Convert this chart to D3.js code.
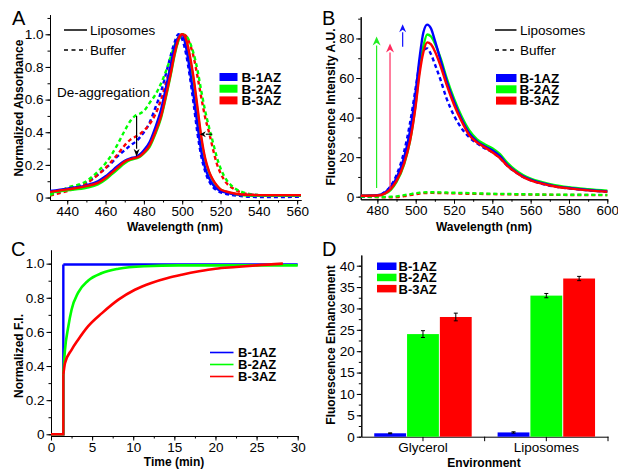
<!DOCTYPE html>
<html>
<head>
<meta charset="utf-8">
<script src="https://cdn.jsdelivr.net/npm/d3@7"></script>
<style>
  html, body { margin: 0; padding: 0; background: #fff; }
  svg { display: block; font-family: "Liberation Sans", Arial, sans-serif; }
</style>
</head>
<body>
<svg id="fig" width="618" height="469"></svg>
<script>
// ---- Panel A: normalized absorbance ----
const wlA = [431,440,450,456,460,463,466,470,473,476,478,480,483,486,489,492,494,496,498,500,502,504,506,508,510,512,514,516,518,520,523,526,530,535,540,550,562];
const absLipo1 = [.04,.055,.075,.10,.13,.16,.19,.225,.24,.25,.265,.29,.34,.43,.54,.70,.81,.92,.98,.995,.92,.78,.62,.44,.28,.18,.12,.08,.055,.04,.03,.023,.018,.016,.015,.015,.015];
const absLipo2 = [.03,.045,.06,.08,.11,.14,.17,.21,.23,.24,.25,.27,.31,.39,.49,.64,.75,.87,.96,1.0,.96,.85,.71,.53,.35,.23,.155,.105,.072,.05,.035,.025,.017,.012,.01,.01,.01];
const absLipo3 = [.035,.05,.07,.09,.12,.15,.18,.22,.235,.245,.255,.275,.32,.40,.50,.65,.76,.88,.97,1.0,.97,.87,.73,.55,.37,.24,.16,.11,.075,.05,.037,.028,.02,.017,.015,.015,.015];
const absBuf1 = [.02,.05,.09,.14,.18,.21,.25,.29,.32,.345,.37,.40,.46,.55,.65,.78,.87,.95,1.0,.97,.88,.74,.57,.39,.25,.16,.10,.065,.045,.032,.022,.015,.01,.005,.003,.003,.005];
const absBuf2 = [.015,.06,.10,.16,.21,.26,.32,.41,.47,.505,.515,.53,.58,.63,.70,.79,.86,.93,.98,1.0,.99,.95,.88,.78,.65,.53,.43,.34,.25,.18,.11,.07,.04,.022,.015,.01,.01];
const absBuf3 = [.012,.04,.085,.14,.18,.22,.26,.32,.355,.375,.39,.41,.45,.51,.60,.72,.81,.89,.96,1.0,.99,.94,.86,.74,.61,.49,.40,.30,.21,.15,.09,.06,.035,.02,.015,.01,.01];

// ---- Panel B: fluorescence spectra ----
const wlB = [471.3,480,484,487,490,494,497,500,502,504,506,508,510,513,516,520,524,528,532,536,540,544,548,552,556,560,566,572,580,590,600];
const flLipo1 = [0.5,0.8,2.2,5,9.5,20,33,53,70,83,87,85,79,69,59,48,39,32,28,25.5,23.5,20.5,16,12.8,10.3,8.6,6.8,5.5,4.4,3.4,2.7];
const flLipo2 = [0.5,0.6,1.5,3.5,7.5,16.5,28,47,64,76,82,81,77.5,70,60.5,49.5,40.5,33.5,29,26.5,24.5,21.5,17,13.5,11,9.2,7.4,6,4.8,3.8,3.0];
const flLipo3 = [0.5,0.6,1.7,4,8,17,28,46,62,73,78,77,73.5,66,57,46.5,38,31,27.5,25,22.5,19.5,15.5,12.5,10,8.3,6.6,5.3,4.2,3.2,2.5];
const flBuf1 = [0.3,0.6,2.5,5.5,11,23,37,55,67,74,75,72,67,59,50,41,34.5,30,27,24.5,22.5,19.5,15.5,12.5,10,8.3,6.5,5.2,4.2,3.2,2.5];
const flBuf2 = [0,-0.1,-0.1,0,0.2,0.8,1.3,1.8,2.0,2.2,2.3,2.3,2.25,2.2,2.1,2.0,1.9,1.8,1.7,1.6,1.5,1.45,1.4,1.3,1.25,1.2,1.1,1.05,1.0,0.95,0.9];
const flBuf3 = [0,-0.2,-0.3,-0.3,-0.2,0.3,0.8,1.3,1.6,1.8,1.9,1.95,1.9,1.85,1.8,1.7,1.6,1.5,1.45,1.4,1.3,1.25,1.2,1.15,1.1,1.05,1.0,0.95,0.9,0.85,0.8];

// ---- Panel C: kinetics (dye added at t = 1.5 min) ----
const tInject = 1.5;
const tC1 = [1.5, 30];
const fiC1 = [0.995, 0.995];
const tC2 = [1.5,1.7,2.1,2.5,3.3,4.5,6.2,8.2,11.4,15.5,20,25,30];
const fiC2 = [0.36,0.495,0.63,0.73,0.83,0.90,0.945,0.97,0.985,0.99,0.99,0.99,0.99];
const tC3 = [1.5,1.7,2.5,3.3,4.5,6.2,8.2,10.2,12.2,14.2,15.9,18,20,22.5,25,28.2];
const fiC3 = [0.35,0.417,0.495,0.554,0.632,0.71,0.789,0.847,0.887,0.916,0.935,0.955,0.97,0.98,0.99,1.0];

// ---- Panel D: enhancement ----
const envs = ["Glycerol", "Liposomes"];
const dyes = ["B-1AZ", "B-2AZ", "B-3AZ"];
const enhB1 = [0.8, 1.0], errB1 = [0.1, 0.15];
const enhB2 = [24, 33], errB2 = [0.8, 0.5];
const enhB3 = [28, 37], errB3 = [0.9, 0.5];

const BLUE = "#0000ff", GREEN = "#00ff00", RED = "#ff0000";
const colorOf = { "B-1AZ": BLUE, "B-2AZ": GREEN, "B-3AZ": RED };

const svg = d3.select("#fig");
const FS = 13.5;
const LEG = 13;

function zip(xs, ys) { return xs.map((x, i) => [x, ys[i]]); }

function drawAxes(g, x, y, o) {
  const bottom = y.range()[0];
  const left = x.range()[0];
  if (o.xMinor) {
    g.append("g").attr("transform", `translate(0,${bottom})`)
      .call(d3.axisBottom(x).tickValues(o.xMinor).tickSize(2.5).tickSizeOuter(0).tickFormat(""));
  }
  const xa = g.append("g").attr("class", "ax").attr("transform", `translate(0,${bottom})`);
  if (o.xMajor) {
    xa.call(d3.axisBottom(x).tickValues(o.xMajor).tickSize(4.5).tickSizeOuter(0).tickPadding(1.5).tickFormat(o.xFmt || d3.format("d")));
  } else {
    // category axis: ticks at the categories and at the band edges
    xa.call(d3.axisBottom(x).tickSize(4.5).tickSizeOuter(0).tickPadding(1.5));
    const edges = x.domain().map(d => x(d)).concat([x.range()[1]]).slice(1);
    xa.selectAll("line.edge").data(edges).enter().append("line").attr("class", "edge")
      .attr("x1", d => d).attr("x2", d => d).attr("y1", 0).attr("y2", 4.5);
  }
  g.append("g").attr("transform", `translate(${left},0)`)
    .call(d3.axisLeft(y).tickValues(o.yMinor).tickSize(2.5).tickSizeOuter(0).tickFormat(""));
  g.append("g").attr("class", "ax").attr("transform", `translate(${left},0)`)
    .call(d3.axisLeft(y).tickValues(o.yMajor).tickSize(4.5).tickSizeOuter(0).tickPadding(2).tickFormat(o.yFmt || d3.format("d")));
  g.selectAll(".ax text").attr("font-size", FS).attr("font-family", "Liberation Sans, Arial, sans-serif").attr("fill", "#000");
  g.selectAll(".domain, .tick line, line.edge").attr("stroke", "#000").attr("stroke-width", 1);
}

function titles(g, xt, xtY, xtX, yt, ytX, ytY) {
  g.append("text").attr("x", xtX).attr("y", xtY).attr("text-anchor", "middle")
    .attr("font-size", 12).attr("font-weight", "bold").text(xt);
  g.append("text").attr("transform", `translate(${ytX},${ytY}) rotate(-90)`)
    .attr("text-anchor", "middle").attr("dy", "0.35em")
    .attr("font-size", 12).attr("font-weight", "bold").text(yt);
}

function panelLetter(t, x, y) {
  svg.append("text").attr("x", x).attr("y", y).attr("font-size", 20).text(t);
}

function arrow(g, x1, y1, x2, y2, color, hw, hl) {
  const ang = Math.atan2(y2 - y1, x2 - x1);
  const bx = x2 - hl * Math.cos(ang), by = y2 - hl * Math.sin(ang);
  g.append("line").attr("x1", x1).attr("y1", y1).attr("x2", bx).attr("y2", by)
    .attr("stroke", color).attr("stroke-width", 1.2);
  const px = -Math.sin(ang) * hw, py = Math.cos(ang) * hw;
  g.append("path")
    .attr("d", `M${x2},${y2}L${bx + px},${by + py}L${bx + hl * 0.3 * Math.cos(ang)},${by + hl * 0.3 * Math.sin(ang)}L${bx - px},${by - py}Z`)
    .attr("fill", color);
}

const fmt1 = d => d === 0 ? "0" : d3.format(".1f")(d);

// ================= Panel A =================
{
  const g = svg.append("g");
  const x = d3.scaleLinear().domain([431, 562]).range([50, 301]);
  const y = d3.scaleLinear().domain([-0.015, 1.12]).range([200, 14.7]);
  drawAxes(g, x, y, {
    xMajor: d3.range(440, 561, 20), xMinor: d3.range(440, 561, 10),
    yMajor: d3.range(0, 1.01, 0.2), yMinor: d3.range(0, 1.11, 0.1), yFmt: fmt1
  });
  const line = d3.line().x(d => x(d[0])).y(d => y(d[1])).curve(d3.curveMonotoneX);
  g.append("clipPath").attr("id", "clipA").append("rect")
    .attr("x", 50).attr("y", 10).attr("width", 252).attr("height", 190);
  const plot = g.append("g").attr("clip-path", "url(#clipA)");
  [[absBuf1, BLUE], [absBuf3, RED], [absBuf2, GREEN]].forEach(([v, c]) => {
    plot.append("path").attr("d", line(zip(wlA, v))).attr("fill", "none")
      .attr("stroke", c).attr("stroke-width", 2.4).attr("stroke-dasharray", "4,3");
  });
  [[absLipo2, GREEN], [absLipo1, BLUE], [absLipo3, RED]].forEach(([v, c]) => {
    plot.append("path").attr("d", line(zip(wlA, v))).attr("fill", "none")
      .attr("stroke", c).attr("stroke-width", 2.4);
  });
  // annotations
  arrow(g, x(476.2), y(0.5), x(476.2), y(0.25), "#000", 3, 8);
  arrow(g, x(515.7), y(0.388), x(509.2), y(0.388), "#000", 3, 6);
  g.append("text").attr("x", 57).attr("y", 96.5).attr("font-size", FS).text("De-aggregation");
  // style legend
  g.append("line").attr("x1", 64).attr("x2", 87).attr("y1", 30).attr("y2", 30).attr("stroke", "#000").attr("stroke-width", 1.5);
  g.append("text").attr("x", 90).attr("y", 30).attr("dy", "0.35em").attr("font-size", FS).text("Liposomes");
  g.append("line").attr("x1", 64).attr("x2", 87).attr("y1", 50).attr("y2", 50).attr("stroke", "#000").attr("stroke-width", 1.5).attr("stroke-dasharray", "4,3.5");
  g.append("text").attr("x", 90).attr("y", 50).attr("dy", "0.35em").attr("font-size", FS).text("Buffer");
  dyes.forEach((d, i) => {
    g.append("rect").attr("x", 219.5).attr("y", 73 + i * 11.7).attr("width", 18).attr("height", 8).attr("fill", colorOf[d]);
    g.append("text").attr("x", 241.5).attr("y", 77 + i * 11.7).attr("dy", "0.36em")
      .attr("font-size", LEG + 0.5).attr("font-weight", "bold").text(d);
  });
  titles(g, "Wavelength (nm)", 231, 175, "Normalized Absorbance", 19, 108);
  panelLetter("A", 12, 25);
}

// ================= Panel B =================
{
  const g = svg.append("g");
  const x = d3.scaleLinear().domain([471.3, 600]).range([360.7, 607.3]);
  const y = d3.scaleLinear().domain([-1.3, 91]).range([199.3, 16.7]);
  drawAxes(g, x, y, {
    xMajor: d3.range(480, 601, 20), xMinor: d3.range(480, 601, 10),
    yMajor: d3.range(0, 81, 20), yMinor: d3.range(0, 91, 10)
  });
  const line = d3.line().x(d => x(d[0])).y(d => y(d[1])).curve(d3.curveMonotoneX);
  [[flBuf3, RED], [flBuf2, GREEN], [flBuf1, BLUE]].forEach(([v, c]) => {
    g.append("path").attr("d", line(zip(wlB, v))).attr("fill", "none")
      .attr("stroke", c).attr("stroke-width", 2.4).attr("stroke-dasharray", "4,3");
  });
  [[flLipo2, GREEN], [flLipo1, BLUE], [flLipo3, RED]].forEach(([v, c]) => {
    g.append("path").attr("d", line(zip(wlB, v))).attr("fill", "none")
      .attr("stroke", c).attr("stroke-width", 2.4);
  });
  arrow(g, x(479.6), y(4.4), x(479.6), y(81), "#22ee22", 4, 9);
  arrow(g, x(486.6), y(4.2), x(486.6), y(77.5), "#ff2a5e", 4, 9);
  arrow(g, x(493.2), y(75.8), x(493.2), y(87.2), "#1010ff", 3.5, 8);
  g.append("line").attr("x1", 495).attr("x2", 516.5).attr("y1", 30).attr("y2", 30).attr("stroke", "#000").attr("stroke-width", 1.5);
  g.append("text").attr("x", 520).attr("y", 30).attr("dy", "0.35em").attr("font-size", FS).text("Liposomes");
  g.append("line").attr("x1", 495).attr("x2", 516.5).attr("y1", 50).attr("y2", 50).attr("stroke", "#000").attr("stroke-width", 1.5).attr("stroke-dasharray", "4,3.5");
  g.append("text").attr("x", 520).attr("y", 50).attr("dy", "0.35em").attr("font-size", FS).text("Buffer");
  dyes.forEach((d, i) => {
    g.append("rect").attr("x", 496).attr("y", 74 + i * 11.3).attr("width", 20.5).attr("height", 8).attr("fill", colorOf[d]);
    g.append("text").attr("x", 519.5).attr("y", 78 + i * 11.3).attr("dy", "0.36em")
      .attr("font-size", LEG + 0.5).attr("font-weight", "bold").text(d);
  });
  titles(g, "Wavelength (nm)", 231, 484, "Fluorescence Intensity A.U.", 331, 107);
  panelLetter("B", 322, 25);
}

// ================= Panel C =================
{
  const g = svg.append("g");
  const x = d3.scaleLinear().domain([0, 30]).range([51, 297.7]);
  const y = d3.scaleLinear().domain([-0.01, 1.08]).range([436, 250]);
  drawAxes(g, x, y, {
    xMajor: d3.range(0, 31, 5), xMinor: d3.range(0, 31, 2.5),
    yMajor: d3.range(0, 1.01, 0.2), yMinor: d3.range(0, 1.01, 0.1), yFmt: fmt1
  });
  const curve = d3.line().x(d => x(d[0])).y(d => y(d[1])).curve(d3.curveMonotoneX);
  const lin = d3.line().x(d => x(d[0])).y(d => y(d[1]));
  [[tC1, fiC1, BLUE, false], [tC2, fiC2, GREEN, true], [tC3, fiC3, RED, true]].forEach(([t, v, c, smooth]) => {
    // baseline before injection, then the jump
    g.append("path").attr("d", lin([[0, 0], [tInject, 0], [t[0], v[0]]]))
      .attr("fill", "none").attr("stroke", c).attr("stroke-width", 2.4);
    g.append("path").attr("d", (smooth ? curve : lin)(zip(t, v)))
      .attr("fill", "none").attr("stroke", c).attr("stroke-width", 2.6);
  });
  dyes.forEach((d, i) => {
    g.append("line").attr("x1", 210).attr("x2", 233.5).attr("y1", 352.5 + i * 12).attr("y2", 352.5 + i * 12)
      .attr("stroke", colorOf[d]).attr("stroke-width", 1.6);
    g.append("text").attr("x", 238).attr("y", 352.5 + i * 12).attr("dy", "0.36em")
      .attr("font-size", LEG).attr("font-weight", "bold").text(d);
  });
  titles(g, "Time (min)", 466, 174, "Normalized F.I.", 19, 356);
  panelLetter("C", 11, 256);
}

// ================= Panel D =================
{
  const g = svg.append("g");
  const x = d3.scaleBand().domain(envs).range([361.3, 608]);
  const y = d3.scaleLinear().domain([0, 42.5]).range([436.7, 255]);
  drawAxes(g, x, y, {
    xMajor: null,
    yMajor: d3.range(0, 41, 5), yMinor: d3.range(0, 42, 2.5)
  });
  const groupW = x.bandwidth() * 0.79;
  const sub = d3.scaleBand().domain(dyes).range([0, groupW]).paddingInner(0.03);
  const vals = { "B-1AZ": [enhB1, errB1], "B-2AZ": [enhB2, errB2], "B-3AZ": [enhB3, errB3] };
  envs.forEach((e, ei) => {
    const x0 = x(e) + (x.bandwidth() - groupW) / 2;
    dyes.forEach(d => {
      const v = vals[d][0][ei], er = vals[d][1][ei];
      const bx = x0 + sub(d);
      g.append("rect").attr("x", bx).attr("y", y(v)).attr("width", sub.bandwidth())
        .attr("height", y(0) - y(v)).attr("fill", colorOf[d]);
      const cx = bx + sub.bandwidth() / 2;
      g.append("path")
        .attr("d", `M${cx},${y(v - er)}V${y(v + er)}M${cx - 2},${y(v - er)}H${cx + 2}M${cx - 2},${y(v + er)}H${cx + 2}`)
        .attr("stroke", "#000").attr("stroke-width", 1).attr("fill", "none");
    });
  });
  dyes.forEach((d, i) => {
    g.append("rect").attr("x", 377).attr("y", 262.5 + i * 11.2).attr("width", 19.5).attr("height", 7.5).attr("fill", colorOf[d]);
    g.append("text").attr("x", 398.5).attr("y", 266.5 + i * 11.2).attr("dy", "0.36em")
      .attr("font-size", LEG).attr("font-weight", "bold").text(d);
  });
  titles(g, "Environment", 467, 484, "Fluorescence Enhancement", 331, 345);
  panelLetter("D", 322, 256);
}
</script>
</body>
</html>
